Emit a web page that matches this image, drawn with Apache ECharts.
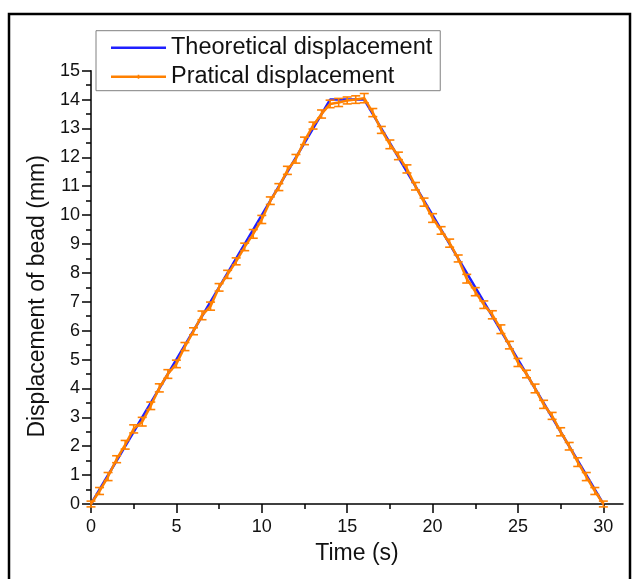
<!DOCTYPE html>
<html><head><meta charset="utf-8">
<script src="https://cdn.jsdelivr.net/npm/echarts@6/dist/echarts.min.js"></script>
<style>html,body{margin:0;padding:0;background:#fff}#c{width:633px;height:579px}</style>
</head><body><div id="c"></div>
<script>
const seriesNames = ['Theoretical displacement', 'Pratical displacement'];
const axisNames = ['Time (s)', 'Displacement of bead (mm)'];
const timeTheoretical = [0, 14, 16, 30];
const dispTheoretical = [0, 14, 14, 0];
const timePractical = [0, 0.5, 1, 1.5, 2, 2.5, 3, 3.5, 4, 4.5, 5, 5.5, 6, 6.5, 7, 7.5, 8, 8.5, 9, 9.5,
  10, 10.5, 11, 11.5, 12, 12.5, 13, 13.5, 14, 14.5, 15, 15.5, 16, 16.5, 17, 17.5, 18, 18.5, 19, 19.5,
  20, 20.5, 21, 21.5, 22, 22.5, 23, 23.5, 24, 24.5, 25, 25.5, 26, 26.5, 27, 27.5, 28, 28.5, 29, 29.5, 30];
const dispPractical = [0, 0.45, 0.95, 1.55, 2.05, 2.6, 2.85, 3.4, 4.02, 4.5, 4.85, 5.45, 5.98, 6.53, 6.85, 7.5, 7.95, 8.4, 8.9, 9.35,
  9.85, 10.5, 10.97, 11.55, 11.95, 12.57, 13.1, 13.5, 13.85, 13.9, 13.97, 14.0, 14.05, 13.55, 12.95, 12.45, 12.05, 11.6, 11.0, 10.45,
  9.9, 9.47, 9.03, 8.5, 7.8, 7.35, 6.9, 6.55, 6.05, 5.5, 4.9, 4.5, 4.0, 3.45, 3.05, 2.5, 2.0, 1.45, 0.95, 0.45, 0];
const errPractical = [0.1, 0.12, 0.14, 0.12, 0.15, 0.14, 0.15, 0.13, 0.14, 0.15, 0.13, 0.14, 0.12, 0.15, 0.14, 0.13, 0.14, 0.12, 0.13, 0.15,
  0.14, 0.13, 0.12, 0.14, 0.15, 0.13, 0.12, 0.14, 0.13, 0.14, 0.12, 0.13, 0.16, 0.14, 0.12, 0.15, 0.13, 0.14, 0.13, 0.14,
  0.15, 0.13, 0.14, 0.12, 0.15, 0.14, 0.13, 0.14, 0.15, 0.13, 0.14, 0.13, 0.15, 0.14, 0.12, 0.14, 0.13, 0.15, 0.14, 0.12, 0.1];
const xTickValues = [0, 5, 10, 15, 20, 25, 30];
const xMinorTickValues = [2.5, 7.5, 12.5, 17.5, 22.5, 27.5];

const FONT = "'Liberation Sans', Arial, sans-serif";
const BLUE = '#2020ff';
const ORANGE = '#ff8000';
const BLACK = '#000';

const chart = echarts.init(document.getElementById('c'), null, {renderer: 'canvas'});

const theoData = timeTheoretical.map((t, i) => [t, dispTheoretical[i]]);
const pracData = timePractical.map((t, i) => [t, dispPractical[i]]);
const errData = timePractical.map((t, i) => [t, dispPractical[i] - errPractical[i], dispPractical[i] + errPractical[i]]);

const axisLineStyle = {color: BLACK, width: 1.5};
// legend icons: thin line (with a small centre tick for the measured series); tiny corner dots fix the icon box
const iconTheo = 'path://M0,0L0.01,0L0,0.01Z M0,10L0.01,10L0,9.99Z M0,3.8L55,3.8L55,6.2L0,6.2Z';
const iconPrac = 'path://M0,0L0.01,0L0,0.01Z M0,10L0.01,10L0,9.99Z M0,3.8L55,3.8L55,6.2L0,6.2Z M26.7,3L28.3,3L28.3,7L26.7,7Z';

chart.setOption({
  animation: false,
  backgroundColor: '#fff',
  grid: {left: 91, right: 10, top: 70.7, bottom: 75, containLabel: false},
  graphic: [{
    type: 'rect', z: 100, silent: true,
    shape: {x: 9, y: 14, width: 621, height: 620},
    style: {fill: null, stroke: BLACK, lineWidth: 2.5}
  }],
  legend: {
    orient: 'vertical', left: 96, top: 30.7,
    padding: [5, 8, 2, 15], itemGap: 5, itemWidth: 55, itemHeight: 10,
    backgroundColor: '#fff', borderColor: '#808080', borderWidth: 1,
    textStyle: {fontFamily: FONT, fontSize: 23.5, color: '#111'},
    data: [
      {name: seriesNames[0], icon: iconTheo, itemStyle: {color: BLUE}},
      {name: seriesNames[1], icon: iconPrac, itemStyle: {color: ORANGE}}
    ]
  },
  xAxis: [{
    type: 'value', min: 0, max: 31.15, gridIndex: 0,
    name: axisNames[0], nameLocation: 'middle', nameGap: 38,
    nameTextStyle: {fontFamily: FONT, fontSize: 23, color: '#111'},
    axisLine: {show: true, onZero: false, lineStyle: axisLineStyle},
    axisTick: {show: true, inside: false, length: 9, lineStyle: axisLineStyle, customValues: xTickValues},
    axisLabel: {show: true, margin: 14, fontFamily: FONT, fontSize: 18, color: '#111', customValues: xTickValues},
    splitLine: {show: false}
  }, {
    type: 'value', min: 0, max: 31.15, gridIndex: 0, position: 'bottom',
    axisLine: {show: false},
    axisTick: {show: true, inside: false, length: 5, lineStyle: axisLineStyle, customValues: xMinorTickValues},
    axisLabel: {show: false},
    splitLine: {show: false}
  }],
  yAxis: {
    type: 'value', min: 0, max: 15, interval: 1,
    name: axisNames[1], nameLocation: 'middle', nameGap: 42,
    nameTextStyle: {fontFamily: FONT, fontSize: 23, color: '#111', padding: [0, 18, 0, 0]},
    axisLine: {show: true, onZero: false, lineStyle: axisLineStyle},
    axisTick: {show: true, inside: false, length: 9, lineStyle: axisLineStyle},
    minorTick: {show: true, splitNumber: 2, length: 5, lineStyle: axisLineStyle},
    axisLabel: {show: true, margin: 11, fontFamily: FONT, fontSize: 18, color: '#111'},
    splitLine: {show: false},
    minorSplitLine: {show: false}
  },
  series: [{
    name: seriesNames[0], type: 'line', xAxisIndex: 0, data: theoData,
    symbol: 'none', lineStyle: {color: BLUE, width: 2.5}, itemStyle: {color: BLUE}, z: 2
  }, {
    name: seriesNames[1], type: 'line', xAxisIndex: 0, data: pracData,
    symbol: 'none',
    lineStyle: {color: ORANGE, width: 2.5}, itemStyle: {color: ORANGE}, z: 3
  }, {
    name: seriesNames[1] + ' error', type: 'custom', xAxisIndex: 0, data: errData, z: 4, clip: false,
    encode: {x: 0, y: [1, 2]},
    renderItem: function (params, api) {
      const t = api.value(0), lo = api.value(1), hi = api.value(2);
      const p1 = api.coord([t, lo]), p2 = api.coord([t, hi]);
      const hw = 4.5;
      const st = {stroke: ORANGE, lineWidth: 1.6, fill: null};
      return {type: 'group', children: [
        {type: 'line', shape: {x1: p1[0], y1: p1[1], x2: p2[0], y2: p2[1]}, style: st},
        {type: 'line', shape: {x1: p1[0] - hw, y1: p1[1], x2: p1[0] + hw, y2: p1[1]}, style: st},
        {type: 'line', shape: {x1: p2[0] - hw, y1: p2[1], x2: p2[0] + hw, y2: p2[1]}, style: st}
      ]};
    }
  }]
});
</script>
</body></html>
